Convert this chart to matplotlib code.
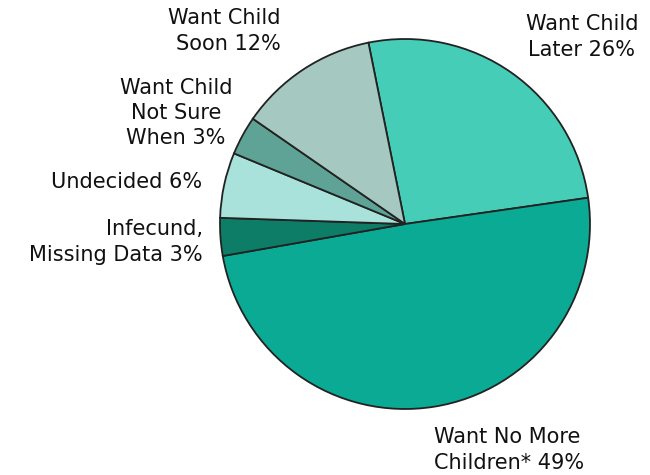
import matplotlib
matplotlib.use("Agg")
import matplotlib.pyplot as plt

# slices clockwise from the top, shares
labels = ["Want Child\nLater 26%", "Want No More\nChildren* 49%", "Infecund,\nMissing Data 3%",
          "Undecided 6%", "Want Child\nNot Sure\nWhen 3%", "Want Child\nSoon 12%"]
shares = [25.9, 49.5, 3.3, 5.7, 3.4, 12.2]
colors = ["#45cdb8", "#0aaa94", "#0e7d68", "#a8e2da", "#5fa396", "#a5c8c0"]

fig = plt.figure(figsize=(6.5, 4.75), dpi=100)
ax = fig.add_axes([0, 0, 1, 1])

ax.pie(shares, colors=colors, startangle=101.4, counterclock=False,
       center=(405, 251), radius=185, frame=True,
       wedgeprops=dict(edgecolor="#222222", linewidth=1.3))
ax.set_xlim(0, 650)
ax.set_ylim(0, 475)
ax.set_aspect("equal")
ax.axis("off")

# label positions in pixel coords (y from top)
pos = [(582, 37, "center"), (434, 450, "left"), (203, 242, "right"),
       (202, 182, "right"), (176, 113, "center"), (281, 31, "right")]
for lab, (x, y, ha) in zip(labels, pos):
    ax.text(x, 475 - y, lab, ha=ha, va="center", fontsize=15,
            multialignment=ha, linespacing=1.32, color="#111111")

fig.savefig("out.png", dpi=100)
